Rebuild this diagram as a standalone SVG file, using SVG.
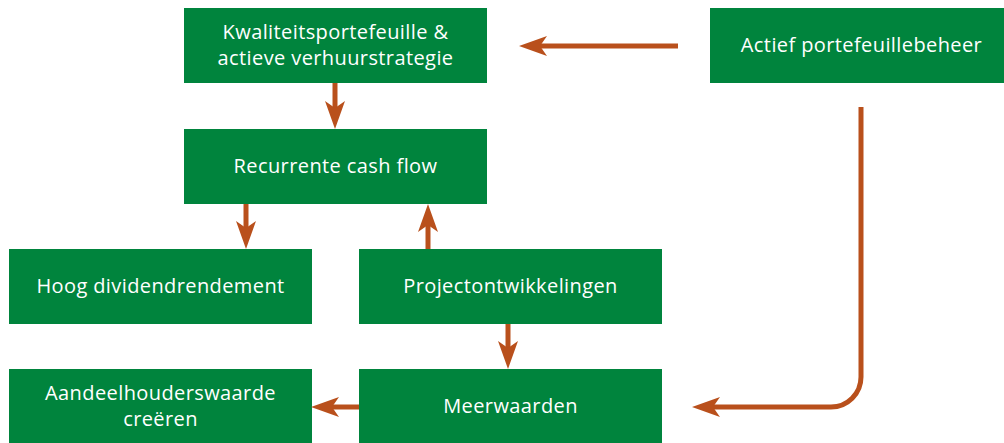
<svg xmlns="http://www.w3.org/2000/svg" width="1004" height="443" viewBox="0 0 1004 443">
  <style>
    .box { fill: #00843D; }
    .lbl { fill: #FFFFFF; font-family: "Open Sans", Lato, sans-serif; font-size: 20px; letter-spacing: 0.4px; text-anchor: middle; }
    .con { fill: none; stroke: #B9501C; stroke-width: 5; marker-end: url(#ah); }
  </style>
  <defs>
    <marker id="ah" viewBox="0 0 28 20" refX="8" refY="10" markerWidth="28" markerHeight="20" markerUnits="userSpaceOnUse" orient="auto">
      <path d="M0,0 L28,10 L0,20 L7,10 Z" fill="#B9501C"/>
    </marker>
  </defs>
  <rect width="1004" height="443" fill="#FFFFFF"/>
  <g id="n-kwaliteit">
    <rect class="box" x="184" y="8" width="303" height="75"/>
    <text class="lbl" x="335.5" y="39">Kwaliteitsportefeuille &amp;</text>
    <text class="lbl" x="335.5" y="65">actieve verhuurstrategie</text>
  </g>
  <g id="n-actief">
    <rect class="box" x="710" y="8" width="303" height="75"/>
    <text class="lbl" x="861.5" y="52">Actief portefeuillebeheer</text>
  </g>
  <g id="n-cashflow">
    <rect class="box" x="184" y="129" width="303" height="75"/>
    <text class="lbl" x="335.5" y="173">Recurrente cash flow</text>
  </g>
  <g id="n-hoog">
    <rect class="box" x="9" y="249" width="303" height="75"/>
    <text class="lbl" x="160.5" y="293">Hoog dividendrendement</text>
  </g>
  <g id="n-project">
    <rect class="box" x="359" y="249" width="303" height="75"/>
    <text class="lbl" x="510.5" y="293">Projectontwikkelingen</text>
  </g>
  <g id="n-aandeel">
    <rect class="box" x="9" y="369" width="303" height="75"/>
    <text class="lbl" x="160.5" y="400">Aandeelhouderswaarde</text>
    <text class="lbl" x="160.5" y="426">creëren</text>
  </g>
  <g id="n-meerwaarden">
    <rect class="box" x="359" y="369" width="303" height="75"/>
    <text class="lbl" x="510.5" y="413">Meerwaarden</text>
  </g>
  <g id="connectors">
    <path class="con" d="M335,83 V109"/>
    <path class="con" d="M678,46 H539"/>
    <path class="con" d="M246,204 V229"/>
    <path class="con" d="M428,249 V224"/>
    <path class="con" d="M508,324 V349"/>
    <path class="con" d="M359,407 H331"/>
    <path class="con" d="M861,107 V377 A30,30 0 0 1 831,407 H712"/>
  </g>
</svg>
